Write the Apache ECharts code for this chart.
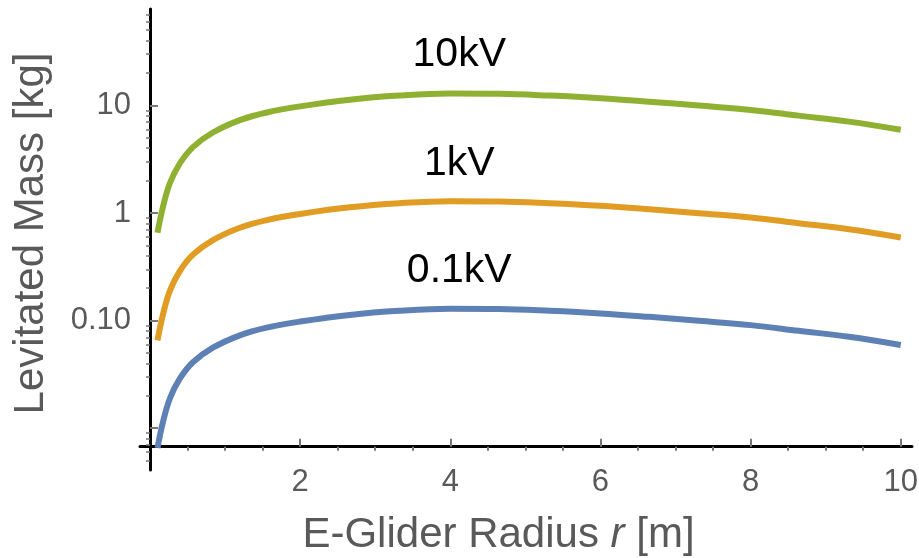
<!DOCTYPE html>
<html><head><meta charset="utf-8">
<script src="https://cdn.jsdelivr.net/npm/echarts@6/dist/echarts.min.js"></script>
<style>html,body{margin:0;padding:0;background:#fff}#c{width:919px;height:558px}</style>
</head><body><div id="c"></div>
<script>
// ---- data ----
const radius = [0.1, 0.173, 0.266, 0.399, 0.572, 0.838, 1.197, 1.556, 2.0, 2.66, 3.32, 4.0, 4.65, 5.32, 6.0, 6.65, 7.31, 8.0, 8.64, 9.31, 10];
const mass01kV = [0.00655, 0.0114, 0.019, 0.029, 0.041, 0.056, 0.073, 0.086, 0.098, 0.113, 0.1234, 0.1288, 0.128, 0.1233, 0.1167, 0.1084, 0.0996, 0.0908, 0.0804, 0.0707, 0.0593];
const mass1kV  = [0.0655, 0.114, 0.19, 0.29, 0.41, 0.56, 0.73, 0.86, 0.98, 1.13, 1.234, 1.288, 1.28, 1.233, 1.167, 1.084, 0.996, 0.908, 0.804, 0.707, 0.593];
const mass10kV = [0.655, 1.14, 1.9, 2.9, 4.1, 5.6, 7.3, 8.6, 9.8, 11.3, 12.34, 12.88, 12.8, 12.33, 11.67, 10.84, 9.96, 9.08, 8.04, 7.07, 5.93];
const seriesNames = ['0.1kV', '1kV', '10kV'];
const xMajorTicks = [2, 4, 6, 8, 10];
const xMinorTicks = [0.5, 1, 1.5, 2.5, 3, 3.5, 4.5, 5, 5.5, 6.5, 7, 7.5, 8.5, 9, 9.5];
const yLabelTicks = [0.1, 1, 10];
const yMajorTicks = [0.01, 0.1, 1, 10];
const yMinorTicks = [0.005, 0.006, 0.007, 0.008, 0.009,
  0.02, 0.03, 0.04, 0.05, 0.06, 0.07, 0.08, 0.09,
  0.2, 0.3, 0.4, 0.5, 0.6, 0.7, 0.8, 0.9,
  2, 3, 4, 5, 6, 7, 8, 9,
  20, 30, 40, 50, 60, 70];
const yLabelText = {'1': '10', '0': '1', '-1': '0.10'};

// ---- axis ranges ----
const xMin = -0.133, xMax = 10.15;
const yMin = 0.00409, yMax = 78.7, xAxisCross = 0.00673;

const FONT = 'Liberation Sans, Arial, Helvetica, sans-serif';
const GRAY = '#595959';
const colors = ['#5E81B5', '#E19C24', '#8FB131'];

const toPairs = ys => radius.map((x, i) => [x, ys[i]]);
const allMass = [mass01kV, mass1kV, mass10kV];
const labelCoords = [[4.12, 0.288], [4.12, 2.9], [4.12, 29.5]];

const chart = echarts.init(document.getElementById('c'), null, {renderer: 'canvas'});
chart.setOption({
  animation: false,
  backgroundColor: '#fff',
  grid: {left: 140, right: 7, top: 9, bottom: 88, containLabel: false, outerBoundsMode: 'none'},
  xAxis: [{
    type: 'value', min: xMin, max: xMax,
    axisLine: {show: true, onZero: true, onZeroAxisIndex: 2, lineStyle: {color: '#000', width: 3}},
    axisTick: {show: true, inside: true, length: 8, customValues: xMajorTicks, lineStyle: {color: '#777', width: 2}},
    axisLabel: {customValues: xMajorTicks, fontSize: 31, color: GRAY, fontFamily: FONT, margin: -3},
    splitLine: {show: false},
    name: '{n|E-Glider Radius }{i|r}{n| [m]}',
    nameLocation: 'middle', nameGap: 44,
    nameTextStyle: {
      padding: [0, 55, 0, 0],
      rich: {
        n: {fontSize: 42, color: GRAY, fontFamily: FONT},
        i: {fontSize: 42, color: GRAY, fontFamily: FONT, fontStyle: 'italic'}
      }
    }
  }, {
    type: 'value', min: xMin, max: xMax,
    axisLine: {show: true, onZero: true, onZeroAxisIndex: 2, lineStyle: {color: 'rgba(0,0,0,0)', width: 0}},
    axisTick: {show: true, inside: true, length: 4, customValues: xMinorTicks, lineStyle: {color: '#777', width: 2}},
    axisLabel: {show: false},
    splitLine: {show: false}
  }],
  yAxis: [{
    type: 'log', logBase: 10, min: yMin, max: yMax,
    axisLine: {show: true, onZero: true, onZeroAxisIndex: 0, lineStyle: {color: '#000', width: 3}},
    axisTick: {show: true, inside: true, length: 8, customValues: yMajorTicks, lineStyle: {color: '#777', width: 2}},
    axisLabel: {
      customValues: yLabelTicks, fontSize: 31, color: GRAY, fontFamily: FONT, margin: 9,
      formatter: v => yLabelText[String(Math.round(Math.log10(v)))] || ''
    },
    splitLine: {show: false},
    name: 'Levitated Mass [kg]', nameLocation: 'middle', nameGap: 88,
    nameTextStyle: {fontSize: 42, color: GRAY, fontFamily: FONT, padding: [0, 0, 0, 12]}
  }, {
    type: 'log', logBase: 10, min: yMin, max: yMax,
    axisLine: {show: true, onZero: true, onZeroAxisIndex: 0, lineStyle: {color: 'rgba(0,0,0,0)', width: 0}},
    axisTick: {show: true, inside: true, length: 4, customValues: yMinorTicks, lineStyle: {color: '#777', width: 1.5}},
    axisLabel: {show: false},
    splitLine: {show: false}
  }, {
    type: 'value', show: false,
    min: Math.log10(yMin / xAxisCross), max: Math.log10(yMax / xAxisCross)
  }],
  series: allMass.map((ys, i) => ({
    type: 'line', name: seriesNames[i], xAxisIndex: 0, yAxisIndex: 0,
    data: toPairs(ys), showSymbol: false, smooth: 0.4,
    lineStyle: {color: colors[i], width: 6}, itemStyle: {color: colors[i]},
    z: 3,
    markPoint: {
      symbol: 'rect', symbolSize: 1, silent: true,
      itemStyle: {color: 'rgba(0,0,0,0)'},
      label: {show: true, position: 'inside', formatter: '{b}', color: '#000', fontSize: 41, fontFamily: FONT},
      data: [{name: seriesNames[i], coord: labelCoords[i]}]
    }
  }))
});
</script></body></html>
